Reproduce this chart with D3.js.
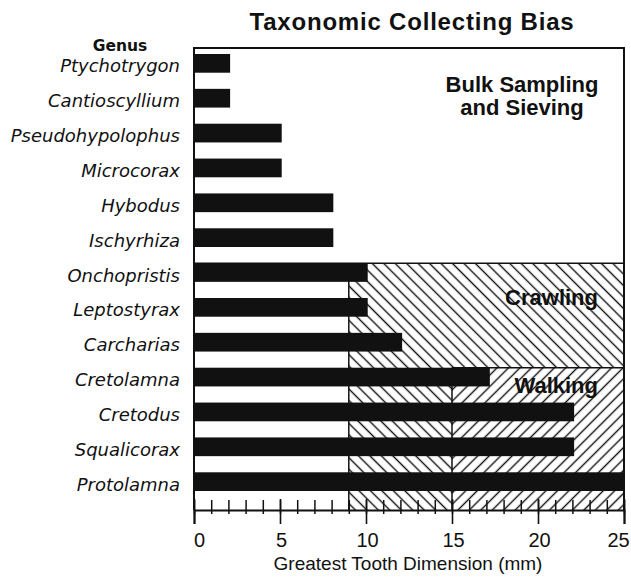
<!DOCTYPE html>
<html>
<head>
<meta charset="utf-8" />
<title>Taxonomic Collecting Bias</title>
<style>
html, body {
    margin: 0px;
    padding: 0px;
    background: #fff;
}
svg text {
    fill: #111;
}
</style>
</head>
<body>
<svg id="chart" width="631" height="577"></svg>

<script src="https://cdnjs.cloudflare.com/ajax/libs/d3/7.8.5/d3.min.js"></script>
<script>
!(function(){
    "use strict";

    // data
    var genera = ["Ptychotrygon", "Cantioscyllium", "Pseudohypolophus", "Microcorax",
        "Hybodus", "Ischyrhiza", "Onchopristis", "Leptostyrax", "Carcharias",
        "Cretolamna", "Cretodus", "Squalicorax", "Protolamna"];
    var toothMM = [2.1, 2.1, 5.1, 5.1, 8.1, 8.1, 10.1, 10.1, 12.1, 17.2, 22.1, 22.1, 25];
    var majorTicks = [0, 5, 10, 15, 20, 25];
    var minorTicks = d3.range(0, 26);

    // collecting zones: name, minimum size (mm), first genus row in the zone
    var zoneNames = ["Bulk Sampling|and Sieving", "Crawling", "Walking"];
    var zoneMinMM = [0, 9, 15];
    var zoneFirstGenus = ["Ptychotrygon", "Onchopristis", "Cretolamna"];

    var svg = d3.select("#chart");
    var left = 194, right = 624, top = 48, bottom = 510;

    var x = d3.scaleLinear().domain([0, 25]).range([left, right]);
    var y = d3.scaleBand().domain(genera)
        .range([top, 497])
        .paddingInner(0.463)
        .paddingOuter(0.172);

    var defs = svg.append("defs");
    hatch("hatchBack", -45);
    hatch("hatchFwd", 45);

    function hatch(id, angle) {
        var s = 8.1;
        var p = defs.append("pattern")
            .attr("id", id)
            .attr("patternUnits", "userSpaceOnUse")
            .attr("width", s)
            .attr("height", s)
            .attr("patternTransform", "rotate(" + angle + ")");
        p.append("rect")
            .attr("width", s).attr("height", s)
            .attr("fill", "#fff");
        p.append("line")
            .attr("x1", s / 2).attr("x2", s / 2)
            .attr("y1", 0).attr("y2", s)
            .attr("stroke", "#111")
            .attr("stroke-width", 1.4);
    }

    // plot box (bulk sampling zone)
    svg.append("rect")
        .attr("x", left).attr("y", top)
        .attr("width", right - left).attr("height", bottom - top)
        .attr("fill", "#fff");

    var crawlTop = y(zoneFirstGenus[1]);
    var walkTop = y(zoneFirstGenus[2]);

    svg.append("rect")
        .attr("x", x(zoneMinMM[1])).attr("y", crawlTop)
        .attr("width", x(25) - x(zoneMinMM[1])).attr("height", bottom - crawlTop)
        .attr("fill", "url(#hatchBack)");

    svg.append("rect")
        .attr("x", x(zoneMinMM[2])).attr("y", walkTop)
        .attr("width", x(25) - x(zoneMinMM[2])).attr("height", bottom - walkTop)
        .attr("fill", "url(#hatchFwd)");

    var lines = svg.append("g")
        .attr("stroke", "#111")
        .attr("stroke-width", 1.5);
    lines.append("line")
        .attr("x1", left).attr("x2", right)
        .attr("y1", crawlTop).attr("y2", crawlTop);
    lines.append("line")
        .attr("x1", x(zoneMinMM[1])).attr("x2", x(zoneMinMM[1]))
        .attr("y1", crawlTop).attr("y2", bottom);
    lines.append("line")
        .attr("x1", x(zoneMinMM[2])).attr("x2", right)
        .attr("y1", walkTop).attr("y2", walkTop);
    lines.append("line")
        .attr("x1", x(zoneMinMM[2])).attr("x2", x(zoneMinMM[2]))
        .attr("y1", walkTop).attr("y2", bottom);

    svg.append("path")
        .attr("d", "M" + left + "," + bottom + "V" + top + "H" + right + "V" + bottom)
        .attr("fill", "none")
        .attr("stroke", "#111")
        .attr("stroke-width", 2);

    // bars
    svg.append("g").selectAll("rect")
        .data(genera)
        .enter()
        .append("rect")
        .attr("x", x(0))
        .attr("y", function(d) { return y(d); })
        .attr("width", function(d, i) { return x(toothMM[i]) - x(0); })
        .attr("height", y.bandwidth())
        .attr("fill", "#111");

    // genus labels
    svg.append("g").selectAll("text")
        .data(genera)
        .enter()
        .append("text")
        .attr("x", 180)
        .attr("y", function(d) { return y(d) + y.bandwidth() / 2 + 9; })
        .attr("text-anchor", "end")
        .style("font-family", "'DejaVu Sans', sans-serif")
        .style("font-style", "italic")
        .style("font-size", "18px")
        .text(function(d) { return d; });

    svg.append("text")
        .attr("x", 120).attr("y", 51)
        .attr("text-anchor", "middle")
        .style("font-family", "'DejaVu Sans', sans-serif")
        .style("font-weight", "bold")
        .style("font-size", "15.5px")
        .text("Genus");

    // zone labels
    var zoneFont = "'Liberation Sans', Arial, sans-serif";
    var bulk = svg.append("text")
        .attr("text-anchor", "middle")
        .style("font-family", zoneFont)
        .style("font-weight", "bold")
        .style("font-size", "22px");
    zoneNames[0].split("|").forEach(function(s, i) {
        bulk.append("tspan").attr("x", 522).attr("y", 92 + i * 23).text(s);
    });

    svg.append("text")
        .attr("x", 598).attr("y", 305)
        .attr("text-anchor", "end")
        .style("font-family", zoneFont)
        .style("font-weight", "bold")
        .style("font-size", "22px")
        .text(zoneNames[1]);

    svg.append("text")
        .attr("x", 598).attr("y", 393)
        .attr("text-anchor", "end")
        .style("font-family", zoneFont)
        .style("font-weight", "bold")
        .style("font-size", "22px")
        .text(zoneNames[2]);

    // x axis
    var minor = svg.append("g")
        .attr("transform", "translate(0," + bottom + ")")
        .call(d3.axisBottom(x).tickValues(minorTicks).tickSizeOuter(0).tickSize(4).tickFormat(""));
    minor.select(".domain").remove();
    minor.selectAll(".tick line").attr("y1", -10).attr("stroke", "#111").attr("stroke-width", 1.5);

    var major = svg.append("g")
        .attr("transform", "translate(0," + bottom + ")")
        .call(d3.axisBottom(x).tickValues(majorTicks).tickSizeOuter(0).tickSize(14));
    major.select(".domain").attr("stroke", "#111").attr("stroke-width", 2);
    major.selectAll(".tick line").attr("y1", -11).attr("stroke", "#111").attr("stroke-width", 1.6);
    major.selectAll(".tick text")
        .attr("y", 37).attr("dy", 0)
        .attr("dx", function(d) { return d === 0 ? 5 : (d === 25 ? -6 : 1); })
        .style("font-family", "'Liberation Sans', Arial, sans-serif")
        .style("font-size", "20px")
        .attr("fill", "#111");

    svg.append("text")
        .attr("x", 408).attr("y", 570)
        .attr("text-anchor", "middle")
        .style("font-family", "'Liberation Sans', Arial, sans-serif")
        .style("font-size", "19px")
        .text("Greatest Tooth Dimension (mm)");

    svg.append("text")
        .attr("x", 412).attr("y", 30)
        .attr("text-anchor", "middle")
        .style("font-family", "'Liberation Sans', Arial, sans-serif")
        .style("font-weight", "bold")
        .style("font-size", "24px")
        .style("letter-spacing", "0.8px")
        .text("Taxonomic Collecting Bias");

}());
</script>
</body>
</html>
